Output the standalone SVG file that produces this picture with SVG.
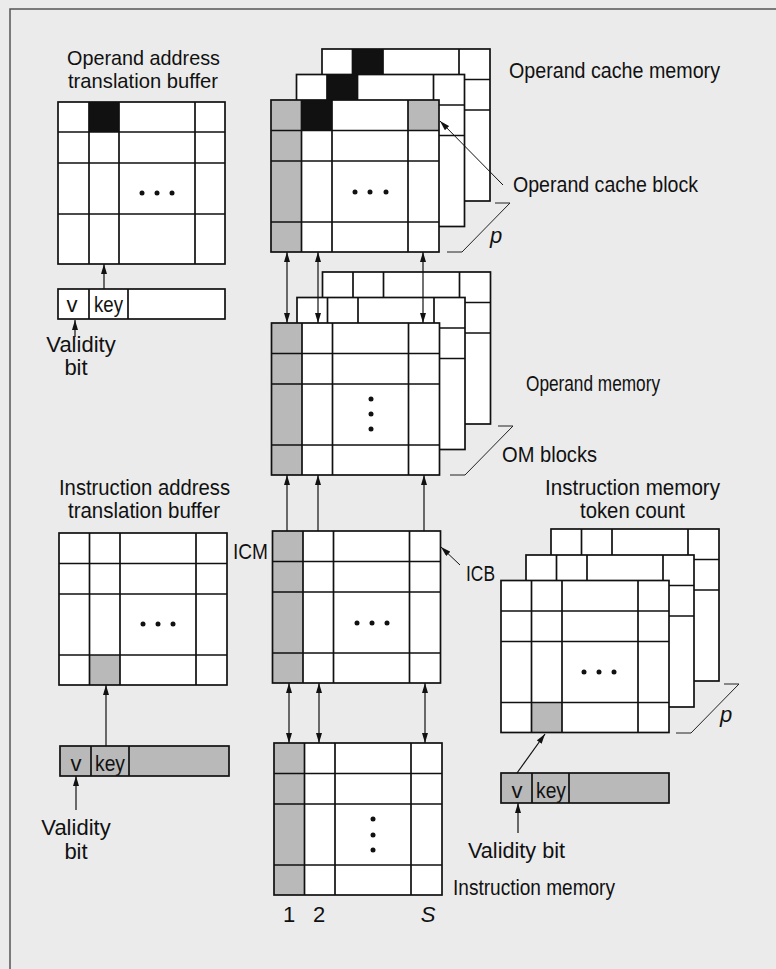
<svg xmlns="http://www.w3.org/2000/svg" xmlns:xlink="http://www.w3.org/1999/xlink" width="776" height="969" viewBox="0 0 776 969">
<style>
text{font-family:"Liberation Sans",Arial,sans-serif;font-size:22px;fill:#111}
.mid{text-anchor:middle}
.it{font-style:italic}
.t21{font-size:21px}
.ln{fill:none;stroke:#111;stroke-width:1.7}
.thin{fill:none;stroke:#222;stroke-width:1}
.wh{fill:#fff}
.gr{fill:#b9b9b9}
.bk{fill:#111}
.dot{fill:#111}
</style>
<defs>
<marker id="ah" viewBox="0 0 10 6" refX="10" refY="3" markerWidth="10" markerHeight="6" orient="auto-start-reverse" markerUnits="userSpaceOnUse"><path d="M0,0 L10,3 L0,6 z" fill="#111"/></marker>
<rect id="wb" width="168" height="152" fill="#fff"/>
<g id="gl"><rect width="168" height="152" class="ln"/><path class="ln" d="M30.5 0V152M61 0V152M137 0V152M0 30.5H168M0 61H168M0 122H168"/></g>
<g id="glb"><rect width="168" height="152" class="ln"/><path class="ln" d="M30.5 0V152M61 0V152M137 0V152M0 30.5H168M0 61H168"/></g>
</defs>
<rect width="776" height="969" fill="#ebebeb"/>
<path d="M10 969V9H776" fill="none" stroke="#555" stroke-width="1.5"/>

<g id="oatb">
<text class="mid t21" x="143.5" y="65" textLength="153" lengthAdjust="spacingAndGlyphs">Operand address</text>
<text class="mid t21" x="143" y="88" textLength="150" lengthAdjust="spacingAndGlyphs">translation buffer</text>
<g transform="translate(58,102)">
<rect width="167" height="162" class="wh"/>
<rect x="31" width="30" height="30" class="bk"/>
<rect width="167" height="162" class="ln"/>
<path class="ln" d="M31 0V162M61 0V162M137 0V162M0 30H167M0 61H167M0 112H167"/>
</g>
<circle class="dot" cx="142" cy="193" r="2.5"/><circle class="dot" cx="157" cy="193" r="2.5"/><circle class="dot" cx="172" cy="193" r="2.5"/>
</g>

<g id="okey">
<rect x="58" y="289" width="167" height="30" class="wh"/>
<rect x="58" y="289" width="167" height="30" class="ln"/>
<path class="ln" d="M89 289V319M128 289V319"/>
<text class="mid" x="72" y="312">v</text>
<text class="mid" x="108.5" y="312" textLength="29" lengthAdjust="spacingAndGlyphs">key</text>
</g>
<g id="ovalid">
<text class="mid" x="81" y="352">Validity</text>
<text class="mid" x="76" y="375">bit</text>
</g>

<g id="ocache">
<g transform="translate(322,49)"><use xlink:href="#wb"/><rect x="30.5" width="30.5" height="30.5" class="bk"/><use xlink:href="#glb"/></g>
<g transform="translate(296.5,74.5)"><use xlink:href="#wb"/><rect x="30.5" width="30.5" height="30.5" class="bk"/><use xlink:href="#glb"/></g>
<g transform="translate(271,100)"><use xlink:href="#wb"/><rect width="30.5" height="152" class="gr"/><rect x="137" width="31" height="30.5" class="gr"/><rect x="30.5" width="30.5" height="30.5" class="bk"/><use xlink:href="#gl"/></g>
<circle class="dot" cx="355" cy="192" r="2.5"/><circle class="dot" cx="370" cy="192" r="2.5"/><circle class="dot" cx="386" cy="192" r="2.5"/>
<path class="thin" d="M447 252H462L510 203H495"/>
<text class="it" x="490" y="243">p</text>
<text x="509" y="78" textLength="211" lengthAdjust="spacingAndGlyphs">Operand cache memory</text>
<text x="513" y="192" textLength="185" lengthAdjust="spacingAndGlyphs">Operand cache block</text>
</g>

<g id="omem">
<g transform="translate(322.5,272)"><use xlink:href="#wb"/><use xlink:href="#glb"/></g>
<g transform="translate(297,297.5)"><use xlink:href="#wb"/><use xlink:href="#glb"/></g>
<g transform="translate(271.5,323)"><use xlink:href="#wb"/><rect width="30.5" height="152" class="gr"/><use xlink:href="#gl"/></g>
<circle class="dot" cx="371" cy="399" r="2.5"/><circle class="dot" cx="371" cy="414" r="2.5"/><circle class="dot" cx="371" cy="429" r="2.5"/>
<path class="thin" d="M450 475H465L513 426H498"/>
<text x="526" y="391" textLength="134" lengthAdjust="spacingAndGlyphs">Operand memory</text>
<text x="502" y="462" textLength="95" lengthAdjust="spacingAndGlyphs">OM blocks</text>
</g>

<g id="iatb">
<text class="mid" x="144.5" y="495" textLength="171" lengthAdjust="spacingAndGlyphs">Instruction address</text>
<text class="mid" x="144" y="518" textLength="152" lengthAdjust="spacingAndGlyphs">translation buffer</text>
<g transform="translate(59,533)"><use xlink:href="#wb"/><rect x="30.5" y="122" width="30.5" height="30" class="gr"/><use xlink:href="#gl"/></g>
<circle class="dot" cx="143" cy="624" r="2.5"/><circle class="dot" cx="158" cy="624" r="2.5"/><circle class="dot" cx="173" cy="624" r="2.5"/>
</g>

<g id="ikey">
<rect x="60" y="746" width="169" height="30" class="gr"/>
<rect x="60" y="746" width="169" height="30" class="ln"/>
<path class="ln" d="M91 746V776M129 746V776"/>
<text class="mid" x="76" y="771">v</text>
<text class="mid" x="110" y="771" textLength="30" lengthAdjust="spacingAndGlyphs">key</text>
</g>
<g id="ivalid">
<text class="mid" x="76" y="835">Validity</text>
<text class="mid" x="76" y="859">bit</text>
</g>

<g id="icm">
<g transform="translate(272.5,531)"><use xlink:href="#wb"/><rect width="30.5" height="152" class="gr"/><use xlink:href="#gl"/></g>
<circle class="dot" cx="357" cy="623" r="2.5"/><circle class="dot" cx="372" cy="623" r="2.5"/><circle class="dot" cx="387" cy="623" r="2.5"/>
<text x="233" y="559" textLength="35" lengthAdjust="spacingAndGlyphs">ICM</text>
<text x="466" y="581" textLength="29" lengthAdjust="spacingAndGlyphs">ICB</text>
</g>

<g id="imem">
<g transform="translate(274,743)"><use xlink:href="#wb"/><rect width="30.5" height="152" class="gr"/><use xlink:href="#gl"/></g>
<circle class="dot" cx="373" cy="819" r="2.5"/><circle class="dot" cx="373" cy="835" r="2.5"/><circle class="dot" cx="373" cy="850" r="2.5"/>
<text class="mid" x="289" y="922">1</text>
<text class="mid" x="319" y="922">2</text>
<text class="mid it" x="428" y="922">S</text>
<text x="453" y="895" textLength="162" lengthAdjust="spacingAndGlyphs">Instruction memory</text>
</g>

<g id="imtc">
<text x="545" y="495" textLength="175" lengthAdjust="spacingAndGlyphs">Instruction memory</text>
<text x="580" y="518" textLength="105" lengthAdjust="spacingAndGlyphs">token count</text>
<g transform="translate(551,529)"><use xlink:href="#wb"/><use xlink:href="#glb"/></g>
<g transform="translate(526,555)"><use xlink:href="#wb"/><use xlink:href="#glb"/></g>
<g transform="translate(501,580.5)"><use xlink:href="#wb"/><rect x="30.5" y="122" width="30.5" height="30" class="gr"/><use xlink:href="#gl"/></g>
<circle class="dot" cx="584" cy="672" r="2.5"/><circle class="dot" cx="599" cy="672" r="2.5"/><circle class="dot" cx="614" cy="672" r="2.5"/>
<path class="thin" d="M676 733H691L739 684H724"/>
<text class="it" x="720" y="722">p</text>
</g>

<g id="tkey">
<rect x="501" y="773" width="168" height="30" class="gr"/>
<rect x="501" y="773" width="168" height="30" class="ln"/>
<path class="ln" d="M532 773V803M569 773V803"/>
<text class="mid" x="517" y="798">v</text>
<text class="mid" x="551" y="798" textLength="30" lengthAdjust="spacingAndGlyphs">key</text>
<text x="468" y="858" textLength="97" lengthAdjust="spacingAndGlyphs">Validity bit</text>
</g>

<g id="connectors" fill="none" stroke="#111" stroke-width="1.2">
<path d="M104 289V264" marker-end="url(#ah)"/>
<path d="M75 337V320" marker-end="url(#ah)"/>
<path d="M287 252V323" marker-start="url(#ah)" marker-end="url(#ah)"/>
<path d="M318 252V323" marker-start="url(#ah)" marker-end="url(#ah)"/>
<path d="M423 252V323" marker-start="url(#ah)" marker-end="url(#ah)"/>
<path d="M287 531V475" marker-end="url(#ah)"/>
<path d="M318 531V475" marker-end="url(#ah)"/>
<path d="M424 531V475" marker-end="url(#ah)"/>
<path d="M289 683V743" marker-start="url(#ah)" marker-end="url(#ah)"/>
<path d="M319 683V743" marker-start="url(#ah)" marker-end="url(#ah)"/>
<path d="M425 683V743" marker-start="url(#ah)" marker-end="url(#ah)"/>
<path d="M106 746V685" marker-end="url(#ah)"/>
<path d="M76 810V776" marker-end="url(#ah)"/>
<path d="M517 773L545 734" marker-end="url(#ah)"/>
<path d="M518 833V803" marker-end="url(#ah)"/>
<path d="M503 185L440 121" stroke-width="1" marker-end="url(#ah)"/>
<path d="M460 565L441 547" stroke-width="1" marker-end="url(#ah)"/>
</g>
</svg>
